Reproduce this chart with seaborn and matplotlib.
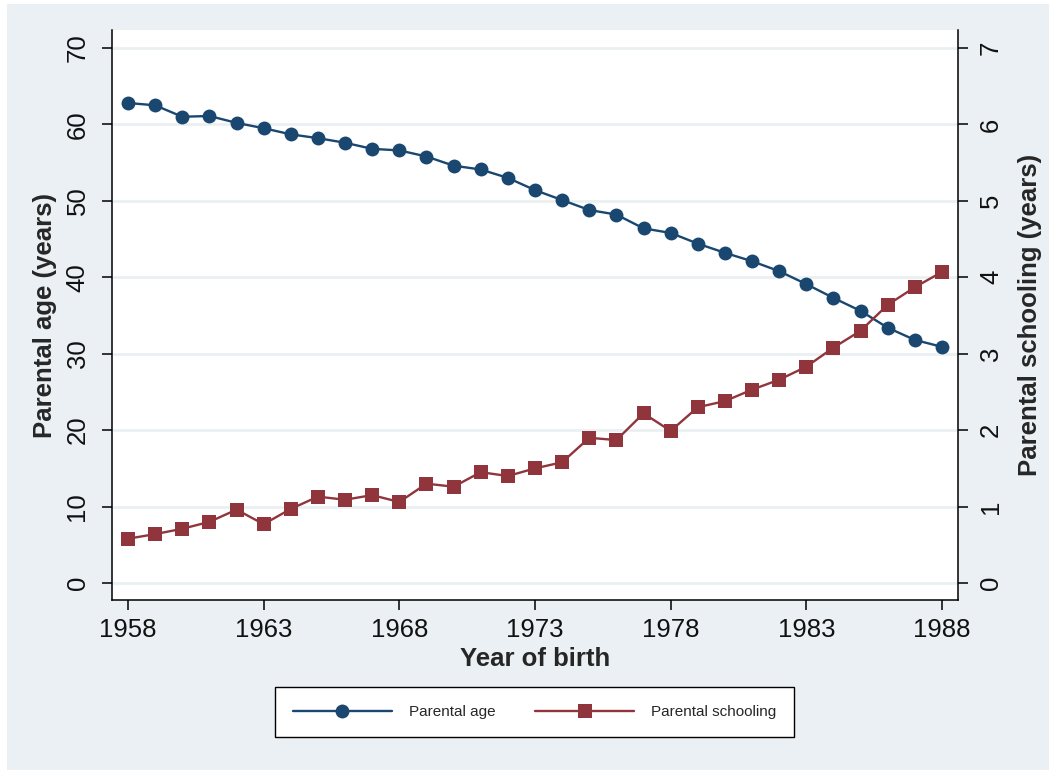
import matplotlib
matplotlib.use("Agg")
import matplotlib.pyplot as plt
import seaborn as sns
import pandas as pd
from matplotlib.patches import Rectangle

# Year of birth of the cohort
years = [1958, 1959, 1960, 1961, 1962, 1963, 1964, 1965, 1966, 1967,
         1968, 1969, 1970, 1971, 1972, 1973, 1974, 1975, 1976, 1977,
         1978, 1979, 1980, 1981, 1982, 1983, 1984, 1985, 1986, 1987, 1988]

# Mean parental age (years), left axis
parental_age = [62.8, 62.5, 61.0, 61.1, 60.2, 59.5, 58.7, 58.2, 57.6, 56.8,
                56.6, 55.8, 54.6, 54.1, 53.0, 51.4, 50.1, 48.8, 48.2, 46.4,
                45.8, 44.4, 43.2, 42.1, 40.8, 39.1, 37.3, 35.6, 33.4, 31.8, 30.9]

# Mean parental schooling (years), right axis
parental_schooling = [0.58, 0.64, 0.71, 0.80, 0.96, 0.77, 0.97, 1.13, 1.09, 1.15,
                      1.06, 1.30, 1.26, 1.45, 1.40, 1.50, 1.58, 1.90, 1.87, 2.22,
                      1.99, 2.30, 2.38, 2.53, 2.66, 2.83, 3.08, 3.30, 3.64, 3.87, 4.07]

x_ticks = [1958, 1963, 1968, 1973, 1978, 1983, 1988]
age_ticks = [0, 10, 20, 30, 40, 50, 60, 70]
school_ticks = [0, 1, 2, 3, 4, 5, 6, 7]

df = pd.DataFrame({"year": years, "age": parental_age, "school": parental_schooling})

sns.set_theme(style="white")
plt.rcParams["font.family"] = ["Liberation Sans", "DejaVu Sans"]

NAVY = "#1a476f"
MAROON = "#90353b"
BG = "#eaf0f3"
GRID = "#eaf0f2"
TICK_FS = 18.5
TITLE_FS = 18.5

fig = plt.figure(figsize=(10.49, 7.70), dpi=100, facecolor="white")
fig.patches.append(Rectangle((7 / 1049, 0), 1 - 7 / 1049, 1 - 4 / 770,
                             transform=fig.transFigure, facecolor=BG,
                             edgecolor="none", zorder=-10))

ax = fig.add_axes([112 / 1049, 1 - 600 / 770, 846 / 1049, 570 / 770])
ax.set_facecolor("white")
ax2 = ax.twinx()

sns.lineplot(data=df, x="year", y="age", ax=ax, color=NAVY, marker="o",
             markersize=10, markeredgewidth=0, linewidth=1.7,
             label="Parental age", legend=False)
sns.lineplot(data=df, x="year", y="school", ax=ax2, color=MAROON, marker="s",
             markersize=9.8, markeredgewidth=0, linewidth=1.7,
             label="Parental schooling", legend=False)

ax.set_xlim(1957.41, 1988.59)
ax.set_ylim(-2.22, 72.35)
ax2.set_ylim(-0.222, 7.235)

ax.set_xticks(x_ticks)
ax.set_xticklabels([str(t) for t in x_ticks])
ax.set_yticks(age_ticks)
ax.set_yticklabels([str(t) for t in age_ticks])
ax2.set_yticks(school_ticks)
ax2.set_yticklabels([str(t) for t in school_ticks])

ax.yaxis.grid(True, color=GRID, linewidth=2.0)
ax.xaxis.grid(False)
ax.set_axisbelow(True)
ax2.grid(False)

for a in (ax, ax2):
    a.tick_params(axis="both", which="major", length=7.2, width=1.1,
                  color="black", labelsize=TICK_FS, labelcolor="#111111")
    a.spines["top"].set_visible(False)
ax.tick_params(axis="x", pad=6, bottom=True)
ax.tick_params(axis="y", pad=9, left=True)
ax2.tick_params(axis="y", pad=8, right=True)

plt.setp(ax.get_yticklabels(), rotation=90, va="center")
plt.setp(ax2.get_yticklabels(), rotation=90, va="center")

for s in ("left", "bottom"):
    ax.spines[s].set_color("black")
    ax.spines[s].set_linewidth(1.1)
ax.spines["right"].set_visible(False)
ax2.spines["left"].set_visible(False)
ax2.spines["bottom"].set_visible(False)
ax2.spines["right"].set_color("black")
ax2.spines["right"].set_linewidth(1.1)

ax.set_xlabel("Year of birth", fontsize=TITLE_FS, fontweight="bold", labelpad=3)
ax.set_ylabel("Parental age (years)", fontsize=TITLE_FS, fontweight="bold", labelpad=6)
ax2.set_ylabel("Parental schooling (years)", fontsize=TITLE_FS, fontweight="bold",
               labelpad=11)

handles = [ax.get_lines()[0], ax2.get_lines()[0]]
labels = ["Parental age", "Parental schooling"]
leg = fig.legend(handles, labels, loc="center", bbox_to_anchor=(0.5096, 0.0753),
                 ncol=2, fontsize=11, handlelength=6.5, handletextpad=1.1,
                 columnspacing=2.6, borderpad=1.15, fancybox=False,
                 frameon=True, framealpha=1, edgecolor="black")
leg.get_frame().set_linewidth(1.0)
leg.get_frame().set_facecolor("white")

fig.savefig("out.png", dpi=100, facecolor=fig.get_facecolor())
